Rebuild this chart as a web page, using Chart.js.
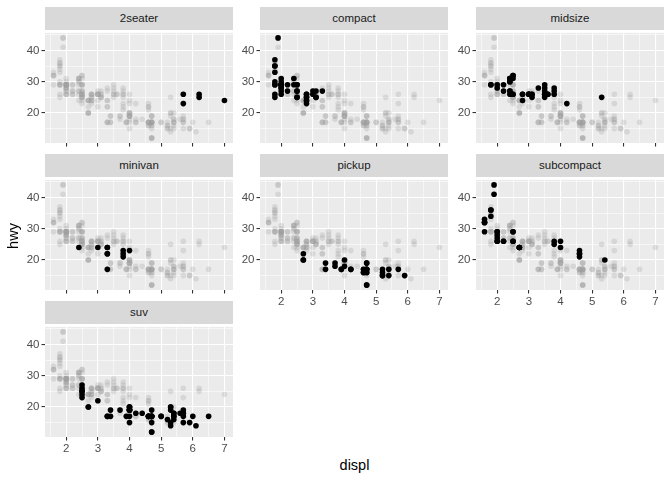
<!DOCTYPE html>
<html>
<head>
  <meta charset="UTF-8">
  <title>hwy vs displ by class</title>
  <script src="https://cdn.jsdelivr.net/npm/chart.js"></script>
  <style>
    body {
      margin: 0;
      background: #fff;
      font-family: "Liberation Sans", Arial, sans-serif;
    }
    #wrap {
      position: relative;
      width: 672px;
      height: 480px;
      overflow: hidden;
    }
    #wrap canvas {
      position: absolute;
    }
    .strip {
      position: absolute;
      background: #D9D9D9;
      color: #1A1A1A;
      font-size: 11.5px;
      text-align: center;
    }
    .axis-title {
      position: absolute;
      color: #000;
      font-size: 14.5px;
      line-height: 18px;
      text-align: center;
    }
  </style>
</head>
<body>
  <div id="wrap"></div>

  <script>
    const classes = ['2seater', 'compact', 'midsize', 'minivan', 'pickup', 'subcompact', 'suv'];

    const displ2seater = [5.7, 5.7, 6.2, 6.2, 7.0];
    const hwy2seater = [26, 23, 26, 25, 24];

    const displCompact = [1.8, 1.8, 2.0, 2.0, 2.8, 2.8, 3.1, 1.8, 1.8, 2.0, 2.0, 2.8, 2.8, 3.1, 3.1,
      2.2, 2.2, 2.4, 2.4, 3.0, 3.0, 3.3, 2.5, 2.5, 2.5, 2.5, 1.8, 1.8, 1.8, 1.8, 1.8,
      2.0, 2.0, 2.0, 2.0, 2.8, 1.9, 2.0, 2.0, 2.0, 2.0, 2.5, 2.5, 2.8, 2.8];
    const hwyCompact = [29, 29, 31, 30, 26, 26, 27, 26, 25, 28, 27, 25, 25, 25, 25,
      29, 27, 31, 29, 26, 27, 27, 25, 27, 25, 27, 30, 33, 35, 37, 35,
      29, 29, 28, 29, 24, 44, 29, 26, 29, 29, 29, 29, 23, 24];

    const displMidsize = [2.8, 3.1, 4.2, 2.4, 2.4, 3.1, 3.5, 3.6, 2.4, 2.4, 2.4, 2.4, 2.5, 2.5, 3.3,
      2.5, 2.5, 2.5, 3.5, 3.5, 3.5, 3.0, 3.0, 3.5, 3.1, 3.8, 3.8, 3.8, 5.3,
      2.2, 2.2, 2.4, 2.4, 3.0, 3.0, 3.5, 1.8, 1.8, 2.0, 2.0, 2.8, 2.8, 3.6];
    const hwyMidsize = [24, 25, 23, 27, 30, 26, 29, 26, 26, 27, 30, 31, 26, 26, 28,
      32, 32, 31, 27, 26, 26, 26, 26, 25, 26, 26, 27, 28, 25,
      29, 27, 31, 31, 26, 26, 28, 29, 29, 28, 29, 26, 26, 26];

    const displMinivan = [2.4, 3.0, 3.3, 3.3, 3.3, 3.3, 3.3, 3.8, 3.8, 3.8, 4.0];
    const hwyMinivan = [24, 24, 22, 22, 24, 24, 17, 22, 21, 23, 23];

    const displPickup = [3.7, 3.7, 3.9, 3.9, 4.7, 4.7, 4.7, 5.2, 5.2, 4.7, 4.7, 4.7, 4.7, 4.7, 5.2, 5.2, 5.7, 5.9, 4.7,
      4.2, 4.2, 4.6, 4.6, 4.6, 5.4, 5.4, 2.7, 2.7, 2.7, 3.4, 3.4, 4.0, 4.0];
    const hwyPickup = [19, 18, 17, 17, 19, 19, 12, 17, 15, 16, 12, 17, 17, 16, 15, 16, 17, 15, 17,
      17, 17, 16, 16, 17, 15, 17, 20, 20, 22, 17, 19, 18, 20];

    const displSubcompact = [3.8, 3.8, 4.0, 4.0, 4.6, 4.6, 4.6, 4.6, 5.4, 1.6, 1.6, 1.6, 1.6, 1.6, 1.8, 1.8, 1.8, 2.0,
      2.0, 2.0, 2.0, 2.7, 2.7, 2.7, 2.7, 2.2, 2.2, 2.5, 2.5, 1.9, 1.9, 2.0, 2.0, 2.5, 2.5];
    const hwySubcompact = [26, 25, 26, 24, 21, 22, 23, 22, 20, 33, 32, 32, 29, 32, 34, 36, 36, 29,
      26, 27, 28, 24, 24, 24, 24, 26, 26, 26, 26, 44, 41, 29, 26, 29, 29];

    const displSuv = [5.3, 5.3, 5.3, 5.7, 6.0, 5.3, 5.3, 5.7, 6.5, 3.9, 4.7, 4.7, 4.7, 5.2, 5.7, 5.9,
      4.6, 5.4, 5.4, 4.0, 4.0, 4.0, 4.0, 4.6, 5.0, 3.0, 3.7, 4.0, 4.7, 4.7, 4.7, 5.7, 6.1,
      4.0, 4.2, 4.4, 4.6, 5.4, 5.4, 5.4, 4.0, 4.0, 4.6, 5.0, 3.3, 3.3, 4.0, 5.6,
      2.5, 2.5, 2.5, 2.5, 2.5, 2.5, 2.7, 2.7, 3.4, 3.4, 4.0, 4.7, 4.7, 5.7];
    const hwySuv = [20, 15, 20, 17, 17, 19, 14, 15, 17, 17, 17, 12, 17, 16, 18, 15,
      17, 17, 18, 19, 19, 19, 17, 17, 17, 22, 19, 20, 17, 12, 19, 19, 14,
      15, 18, 18, 17, 17, 16, 18, 19, 19, 17, 17, 17, 17, 20, 18,
      25, 24, 27, 25, 26, 23, 20, 20, 19, 17, 20, 17, 15, 18];

    const xTicks = [1.5, 2, 2.5, 3, 3.5, 4, 4.5, 5, 5.5, 6, 6.5, 7];
    const yTicks = [15, 20, 25, 30, 35, 40, 45];

    const panelDispl = [displ2seater, displCompact, displMidsize, displMinivan, displPickup, displSubcompact, displSuv];
    const panelHwy = [hwy2seater, hwyCompact, hwyMidsize, hwyMinivan, hwyPickup, hwySubcompact, hwySuv];

    // panels that carry x tick labels (bottom of each column)
    const labelledX = ['pickup', 'subcompact', 'suv'];

    // layout of the facet grid
    const colLeft = [45, 260, 476];
    const rowTop = [30, 177, 324];
    const panelW = 188;
    const panelH = 113;
    const stripH = 23;
    const padL = 40, padT = 6, padR = 6, padB = 24;

    const allPoints = [];
    panelDispl.forEach((xs, i) => {
      xs.forEach((x, j) => allPoints.push({ x: x, y: panelHwy[i][j] }));
    });

    const panelBg = {
      id: 'panelBg',
      beforeDraw(chart) {
        const a = chart.chartArea;
        const ctx = chart.ctx;
        ctx.save();
        ctx.fillStyle = '#EBEBEB';
        ctx.fillRect(a.left, a.top, a.right - a.left, a.bottom - a.top);
        ctx.restore();
      }
    };

    const tickFont = { family: '"Liberation Sans", Arial, sans-serif', size: 11.5 };
    const wrap = document.getElementById('wrap');

    classes.forEach((name, i) => {
      const col = i % 3;
      const row = Math.floor(i / 3);
      const left = colLeft[col];
      const top = rowTop[row];

      const strip = document.createElement('div');
      strip.className = 'strip';
      strip.style.left = left + 'px';
      strip.style.top = (top - stripH) + 'px';
      strip.style.width = panelW + 'px';
      strip.style.height = stripH + 'px';
      strip.style.lineHeight = stripH + 'px';
      strip.textContent = name;
      wrap.appendChild(strip);

      const canvas = document.createElement('canvas');
      canvas.width = padL + panelW + padR;
      canvas.height = padT + panelH + padB;
      canvas.style.left = (left - padL) + 'px';
      canvas.style.top = (top - padT) + 'px';
      wrap.appendChild(canvas);

      const own = panelDispl[i].map((x, j) => ({ x: x, y: panelHwy[i][j] }));
      const showX = labelledX.includes(name);

      new Chart(canvas, {
        type: 'scatter',
        data: {
          datasets: [
            { data: own, backgroundColor: '#000000', borderWidth: 0, pointRadius: 2.8, order: 0 },
            { data: allPoints, backgroundColor: 'rgba(160,160,160,0.27)', borderWidth: 0, pointRadius: 2.8, order: 1 }
          ]
        },
        options: {
          responsive: false,
          animation: false,
          events: [],
          layout: { padding: { left: 0, top: padT, right: padR, bottom: 0 } },
          plugins: {
            legend: { display: false },
            tooltip: { enabled: false }
          },
          scales: {
            x: {
              type: 'linear',
              min: 1.33,
              max: 7.27,
              afterBuildTicks: s => { s.ticks = xTicks.map(v => ({ value: v })); },
              afterFit: s => { s.height = padB; },
              border: { display: false },
              grid: {
                color: '#FFFFFF',
                lineWidth: c => Number.isInteger(c.tick.value) ? 1.1 : 0.55,
                tickColor: c => Number.isInteger(c.tick.value) ? '#333333' : 'rgba(0,0,0,0)',
                tickWidth: 1.1,
                tickLength: 3.5
              },
              ticks: {
                autoSkip: false,
                maxRotation: 0,
                padding: 1,
                color: '#4D4D4D',
                font: tickFont,
                callback: v => (showX && Number.isInteger(v)) ? String(v) : ''
              }
            },
            y: {
              type: 'linear',
              min: 10.4,
              max: 45.6,
              afterBuildTicks: s => { s.ticks = yTicks.map(v => ({ value: v })); },
              afterFit: s => { s.width = padL; },
              border: { display: false },
              grid: {
                color: '#FFFFFF',
                lineWidth: c => c.tick.value % 10 === 0 ? 1.1 : 0.55,
                tickColor: c => c.tick.value % 10 === 0 ? '#333333' : 'rgba(0,0,0,0)',
                tickWidth: 1.1,
                tickLength: 3.5
              },
              ticks: {
                autoSkip: false,
                padding: 2,
                color: '#4D4D4D',
                font: tickFont,
                callback: v => v % 10 === 0 ? String(v) : ''
              }
            }
          }
        },
        plugins: [panelBg]
      });
    });

    const yTitle = document.createElement('div');
    yTitle.className = 'axis-title';
    yTitle.textContent = 'hwy';
    yTitle.style.left = (13 - 30) + 'px';
    yTitle.style.top = (236 - 9) + 'px';
    yTitle.style.width = '60px';
    yTitle.style.transform = 'rotate(-90deg)';
    wrap.appendChild(yTitle);

    const xTitle = document.createElement('div');
    xTitle.className = 'axis-title';
    xTitle.textContent = 'displ';
    xTitle.style.left = (354.5 - 50) + 'px';
    xTitle.style.top = (465 - 9) + 'px';
    xTitle.style.width = '100px';
    wrap.appendChild(xTitle);
  </script>
</body>
</html>
